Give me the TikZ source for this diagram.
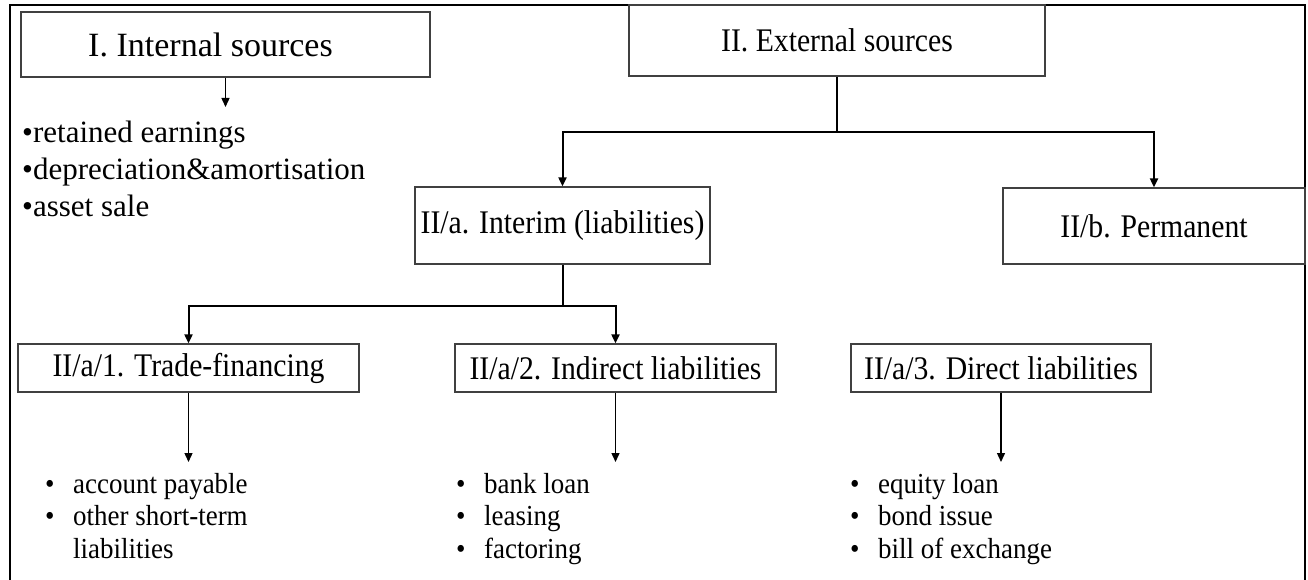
\documentclass[tikz,border=0pt]{standalone}
\usepackage{fontspec}
\setmainfont{Liberation Serif}
\newfontfamily\narrowserif{Liberation Serif}[FakeStretch=0.9]
\newfontfamily\listserif{Liberation Serif}[FakeStretch=0.93]
\usetikzlibrary{arrows.meta}
\newcommand\bul{\makebox[28pt][l]{\textbullet}}
\newcommand\tightlines{\lineskiplimit-100pt\lineskip0pt\relax}
\begin{document}
\begin{tikzpicture}[x=1pt,y=-1pt,
  box/.style={draw=black!75, line width=1.3pt, inner sep=0pt,
    font=\narrowserif\fontsize{33pt}{36pt}\selectfont},
  toplist/.style={inner sep=0pt, align=left,
    font=\fontsize{31pt}{37pt}\selectfont\tightlines},
  itemlist/.style={inner sep=0pt, align=left,
    font=\listserif\fontsize{29pt}{32.5pt}\selectfont\tightlines},
  link/.style={line width=2pt},
  bigarrow/.style={line width=2pt, -{Triangle[length=9pt,width=8pt]}},
  smallarrow/.style={line width=1.4pt, -{Triangle[length=9pt,width=8pt]}}]
\useasboundingbox (0,0) rectangle (1308,580);
\fill[white] (0,0) rectangle (1308,580);
% outer frame
\draw[line width=2.2pt] (10,580) -- (10,5) -- (1305,5) -- (1305,580);

% boxes
\node[box, font=\fontsize{34pt}{40pt}\selectfont, minimum width=409pt, minimum height=65pt]
  (intl) at (225.5,44.5) {I. Internal sources\hspace*{30pt}};
\node[box, minimum width=416pt, minimum height=71pt] (extl) at (837,40.5) {II. External sources};
\node[box, minimum width=295pt, minimum height=77pt] (interim) at (562.5,225.5) {II/a. Interim (liabilities)};
\node[box, minimum width=302pt, minimum height=76pt] (perm) at (1154,226) {II/b. Permanent};
\node[box, minimum width=341pt, minimum height=48pt] (trade) at (188.5,368) {II/a/1. Trade-financing};
\node[box, minimum width=321pt, minimum height=48pt] (indir) at (615.5,368) {II/a/2. Indirect liabilities};
\node[box, minimum width=300pt, minimum height=48pt] (direct) at (1001,368) {II/a/3. Direct liabilities};

% lists
\node[toplist, anchor=north west] (intlist) at (22,121)
  {\textbullet retained earnings\\ \textbullet depreciation\&amortisation\\ \textbullet asset sale};
\node[itemlist, anchor=north west] (tradelist) at (45,473)
  {\bul account payable\\ \bul other short-term\\ \hspace*{28pt}liabilities};
\node[itemlist, anchor=north west] (indirlist) at (456,473)
  {\bul bank loan\\ \bul leasing\\ \bul factoring};
\node[itemlist, anchor=north west] (directlist) at (850,473)
  {\bul equity loan\\ \bul bond issue\\ \bul bill of exchange};

% connectors
\coordinate (intTip) at (225.5,107);
\draw[smallarrow] (intl.south) -- (intTip);

\draw[link] (extl.south) -- ++(0,55) coordinate (extJ);
\draw[bigarrow] (extJ) -| (interim.north);
\draw[bigarrow] (extJ) -| (perm.north);

\draw[link] (interim.south) -- ++(0,41) coordinate (intJ);
\draw[bigarrow] (intJ) -| (trade.north);
\draw[bigarrow] (intJ) -| (indir.north);

\coordinate (tradeTip) at (188.5,462);
\coordinate (indirTip) at (615.5,462);
\coordinate (directTip) at (1001,462);
\draw[smallarrow] (trade.south) -- (tradeTip);
\draw[smallarrow] (indir.south) -- (indirTip);
\draw[smallarrow] (direct.south) -- (directTip);
\end{tikzpicture}
\end{document}
